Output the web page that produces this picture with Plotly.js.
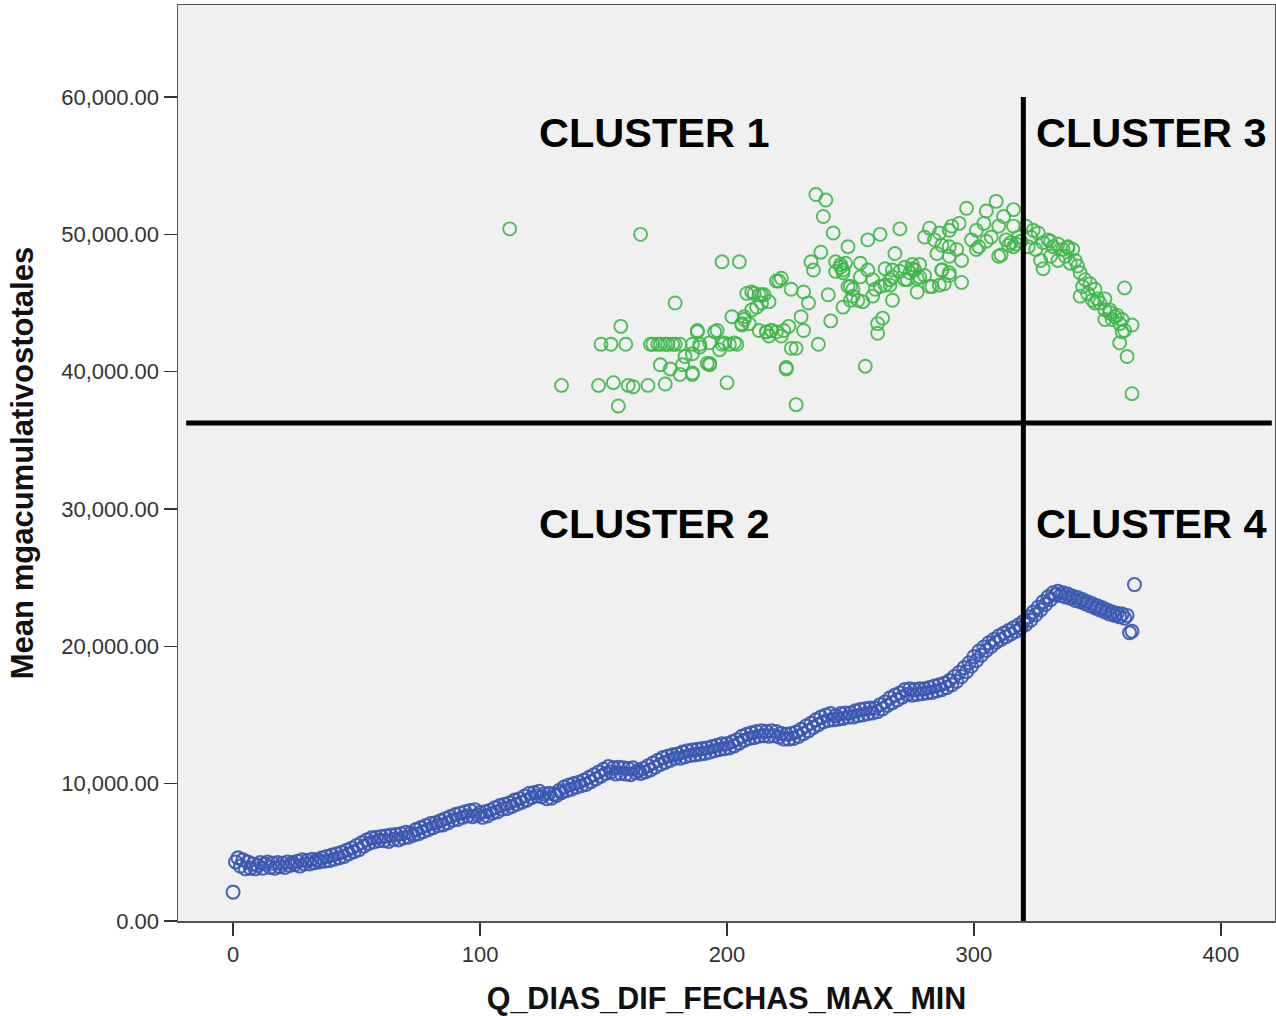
<!DOCTYPE html>
<html>
<head>
<meta charset="utf-8">
<script src="https://cdn.plot.ly/plotly-3.0.1.min.js"></script>
<style>html,body{margin:0;padding:0;background:#fff;}#chart{width:1276px;height:1016px;}</style>
</head>
<body>
<div id="chart"></div>
<script>
// Blue series (cluster 2 / 4): mean value for each day, index = day 0..365
const blueMean = [
2100,4300,4600,4000,4450,3800,4300,3850,4150,3800,
4050,4250,3850,4150,4300,3900,4200,3850,4250,3950,
4200,3900,4300,4050,4250,4100,4350,4000,4450,4150,
4400,4150,4500,4250,4450,4300,4600,4350,4700,4400,
4800,4500,4900,4600,5000,4700,5150,4900,5300,5050,
5500,5200,5700,5450,5900,5650,6050,5750,6100,5850,
6150,5850,6200,5800,6250,5950,6300,5900,6350,6050,
6450,6100,6400,6250,6650,6350,6800,6500,6950,6650,
7100,6800,7150,6950,7300,7000,7450,7150,7600,7350,
7750,7400,7850,7550,7950,7650,8050,7600,8100,7700,
7900,7550,7950,7650,8050,7850,8250,7950,8400,8150,
8500,8200,8600,8350,8800,8500,8900,8650,9100,8800,
9300,9000,9350,9100,9450,9050,9250,8900,9300,8950,
9250,9150,9500,9350,9750,9500,9900,9600,10000,9750,
10100,9850,10250,9950,10450,10150,10650,10350,10850,10550,
11050,10750,11250,10850,11150,10700,11200,10750,11150,10700,
11100,10650,11150,10800,10950,10750,11100,10850,11300,11000,
11500,11200,11700,11400,11900,11550,12000,11700,12100,11850,
12150,11850,12300,11950,12400,12050,12450,12100,12500,12150,
12550,12200,12600,12300,12700,12400,12800,12500,12900,12550,
12900,12600,13050,12750,13200,12950,13450,13150,13600,13300,
13700,13350,13800,13450,13850,13500,13800,13450,13850,13500,
13800,13400,13650,13250,13600,13250,13650,13300,13750,13450,
13950,13650,14200,13850,14400,14100,14650,14300,14850,14500,
15000,14600,15100,14650,14950,14700,15100,14750,15150,14850,
15150,14850,15300,14950,15400,15000,15450,15100,15500,15150,
15500,15250,15750,15450,15950,15700,16250,15900,16450,16100,
16600,16300,16850,16500,16900,16450,16850,16500,16900,16550,
16900,16600,17000,16650,17100,16750,17200,16850,17300,17000,
17500,17200,17800,17450,18100,17800,18450,18150,18800,18550,
19250,18950,19650,19350,19950,19700,20250,20000,20500,20300,
20750,20500,20950,20700,21150,20900,21350,21100,21550,21350,
21800,21600,22150,21900,22500,22300,22850,22650,23250,23050,
23600,23400,23900,23750,24000,23700,23900,23600,23800,23500,
23650,23350,23550,23250,23400,23100,23250,22950,23100,22800,
22950,22650,22800,22500,22650,22350,22500,22250,22400,22150,
22350,22050,22250,21000,21100,24500
];
const blueDays = blueMean.map((v, i) => i);

// Green series (cluster 1 / 3)
const greenDays = [
112,133,148,154,160,162,168,175,156,157,149,153,159,179,165,
169,170,172,173,175,176,178,179,181,173,177,181,186,183,182,
188,186,189,192,193,196,198,201,204,197,200,198,205,202,206,
207,208,211,214,210,212,213,216,218,220,223,225,221,222,226,
231,233,230,231,228,224,228,237,242,241,234,235,238,236,240,
239,243,247,244,248,249,247,251,253,250,254,257,255,257,262,
256,261,261,263,259,260,264,266,267,268,270,267,270,272,274,
276,278,280,272,275,277,283,288,295,282,280,284,286,290,291,
294,297,301,304,305,309,312,316,316,310,307,302,299,293,290,
287,285,290,295,301,305,311,313,315,316,318,319,317,314,310,
287,290,264,267,275,278,277,273,266,262,259,254,250,251,247,
246,244,246,249,195,199,203,193,189,186,193,186,188,210,213,
215,217,214,207,209,206,218,216,222,217,220,226,224,282,286,
290,287,
321,324,326,323,322,325,328,330,332,334,336,338,340,327,328,
331,334,337,339,341,342,343,345,344,347,349,346,343,350,351,
349,353,355,357,353,356,359,364,361,359,362,361,364,331,338,
348,353,355,358,360,360
];
const greenMean = [
50400,39000,39000,39200,39000,38900,39000,39100,37500,43300,42000,42000,42000,45000,50000,
42000,42000,42000,42000,42000,42000,42000,42000,42000,40500,40200,39800,39800,41100,40500,
42900,42000,42000,40600,40500,43000,42000,42000,42000,41600,39200,48000,48000,44000,43500,
43800,45700,45700,45600,44500,44700,43000,42900,43000,42900,43000,43300,46600,46800,46000,
45800,45000,44000,43000,41700,40300,37600,42000,43700,45600,48000,47400,48700,52900,52500,
51300,50100,47200,47300,47900,49100,44700,45500,45200,45200,47900,47400,45100,49600,50000,
40400,42800,43500,43900,45500,46000,46300,46700,45200,48600,50400,46900,47300,46700,47200,
47400,46900,47000,47600,47800,45800,46200,46400,46500,50450,49800,49600,50100,50300,50600,
50800,51900,50300,50800,51700,52400,51300,51800,50600,50600,49800,49100,49600,48900,49100,
49200,48600,48400,48100,48900,49500,48500,49600,49400,49100,49800,49500,49300,49200,48400,
47400,47200,47500,47400,47500,47800,46800,46700,46300,46200,46700,46900,46200,46000,47400,
47800,48000,47600,46200,42900,42100,42100,42100,41800,41300,40600,39900,43000,45800,45600,
45600,45100,45000,44000,43500,43400,43000,42900,42600,42600,46600,41700,40200,46200,46300,
47000,47400,
50600,50300,50100,49800,49100,48900,49400,49600,49100,49300,48900,49100,48900,48100,47500,
48400,48100,48400,47900,48100,47700,47200,46700,46200,46400,46000,45700,45500,45300,45000,
45000,44500,44300,44000,43800,43800,43500,43400,43000,42100,41100,46100,38400,49500,49000,
45200,45300,44500,44100,43800,42900
];

// Cluster split lines and labels
const splitDay = 320;
const splitValue = 36260;
const hLineFrom = -19, hLineTo = 420.6;
const vLineFrom = 0, vLineTo = 60000;
const clusterLabels = ['CLUSTER 1', 'CLUSTER 2', 'CLUSTER 3', 'CLUSTER 4'];
const clusterLabelX = [122.9, 122.9, 324.2, 324.2];
const clusterLabelY = [57380, 28910, 57380, 28910];

const xTicks = [0, 100, 200, 300, 400];
const yTicks = [0, 10000, 20000, 30000, 40000, 50000, 60000];

const FONT = 'Liberation Sans, Arial, sans-serif';

const traces = [
  {
    x: blueDays, y: blueMean, type: 'scatter', mode: 'markers',
    marker: {symbol: 'circle-open', size: 13, color: 'rgba(58,86,176,0.9)', line: {width: 2.1}},
    hoverinfo: 'x+y', showlegend: false
  },
  {
    x: greenDays, y: greenMean, type: 'scatter', mode: 'markers',
    marker: {symbol: 'circle-open', size: 13, color: 'rgba(62,183,74,0.9)', line: {width: 1.9}},
    hoverinfo: 'x+y', showlegend: false
  }
];

const layout = {
  width: 1276, height: 1016,
  margin: {l: 178, r: 1, t: 5, b: 95},
  paper_bgcolor: '#ffffff',
  plot_bgcolor: '#f0f0f0',
  showlegend: false,
  xaxis: {
    range: [-22.3, 421.9], tickvals: xTicks, ticktext: xTicks.map(String),
    ticks: 'outside', ticklen: 13, tickwidth: 1.5, tickcolor: '#333',
    showline: true, linecolor: '#555', linewidth: 1.5, mirror: true,
    showgrid: false, zeroline: false,
    tickfont: {family: FONT, size: 22, color: '#333'},
    title: {text: 'Q_DIAS_DIF_FECHAS_MAX_MIN', font: {family: FONT, size: 30.5, color: '#111', weight: 'bold'}, standoff: 24}
  },
  yaxis: {
    range: [0, 66700], tickvals: yTicks, tickformat: ',.2f',
    ticks: 'outside', ticklen: 13, tickwidth: 1.5, tickcolor: '#333',
    showline: true, linecolor: '#555', linewidth: 1.5, mirror: true,
    showgrid: false, zeroline: false,
    tickfont: {family: FONT, size: 22, color: '#333'},
    title: {text: 'Mean mgacumulativostotales', font: {family: FONT, size: 31, color: '#111', weight: 'bold'}, standoff: 18}
  },
  shapes: [
    {type: 'line', xref: 'x', yref: 'y', x0: hLineFrom, x1: hLineTo, y0: splitValue, y1: splitValue, line: {color: '#000', width: 5}, layer: 'above'},
    {type: 'line', xref: 'x', yref: 'y', x0: splitDay, x1: splitDay, y0: vLineFrom, y1: vLineTo, line: {color: '#000', width: 5}, layer: 'above'}
  ],
  annotations: clusterLabels.map((t, i) => ({
    x: clusterLabelX[i], y: clusterLabelY[i], xref: 'x', yref: 'y',
    text: t, showarrow: false, xanchor: 'left', yanchor: 'middle',
    font: {family: FONT, size: 41.5, color: '#000', weight: 'bold'}
  }))
};

Plotly.newPlot('chart', traces, layout, {displayModeBar: false, staticPlot: true});
</script>
</body>
</html>
